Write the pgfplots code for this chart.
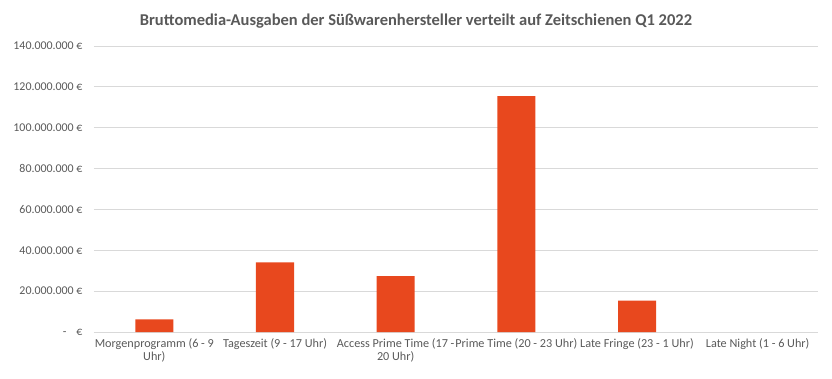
\documentclass[border=0pt]{standalone}
\usepackage{pgfplots}
\pgfplotsset{compat=1.18}
\usepackage{fontspec}
\setmainfont{Carlito}
\definecolor{barc}{RGB}{232,72,30}
\definecolor{txt}{RGB}{89,89,89}
\definecolor{gridc}{RGB}{217,217,217}
\begin{document}
\begin{tikzpicture}
\begin{axis}[
  scale only axis, width=724bp, height=286bp,
  xmin=-0.5, xmax=5.5, ymin=0, ymax=140,
  ybar, bar width=38bp,
  xtick={0,1,2,3,4,5},
  xticklabels={{Morgenprogramm (6 - 9\\Uhr)},{Tageszeit (9 - 17 Uhr)},{Access Prime Time (17 -\\20 Uhr)},{Prime Time (20 - 23 Uhr)},{Late Fringe (23 - 1 Uhr)},{Late Night (1 - 6 Uhr)}},
  xticklabel style={align=center, font=\fontsize{12.2bp}{13.5bp}\selectfont, text=txt, yshift=-3bp},
  ytick={0,20,40,60,80,100,120,140},
  yticklabels={{-\hspace{10bp}€},{20.000.000 €},{40.000.000 €},{60.000.000 €},{80.000.000 €},{100.000.000 €},{120.000.000 €},{140.000.000 €}},
  yticklabel style={font=\fontsize{11.9bp}{13bp}\selectfont, text=txt, xshift=-8bp},
  ymajorgrids, grid style={draw=gridc, line width=0.75bp},
  axis x line*=bottom, axis y line*=left,
  y axis line style={draw=none},
  x axis line style={draw=gridc, line width=0.75bp, -},
  major tick length=0pt,
  clip=false,
]
\addplot[fill=barc, draw=none] coordinates {(0,6.2) (1,34.1) (2,27.3) (3,115.5) (4,15.4)};
\coordinate (sw) at (rel axis cs:0,0);
\end{axis}
\pgfresetboundingbox
\path[use as bounding box] ([shift={(-94bp,-47bp)}]sw) rectangle ([shift={(738bp,332bp)}]sw);
\node[font=\bfseries\fontsize{16.5bp}{18bp}\selectfont, text=txt] at ([shift={(322bp,311bp)}]sw) {Bruttomedia-Ausgaben der Süßwarenhersteller verteilt auf Zeitschienen Q1 2022};
\end{tikzpicture}
\end{document}
